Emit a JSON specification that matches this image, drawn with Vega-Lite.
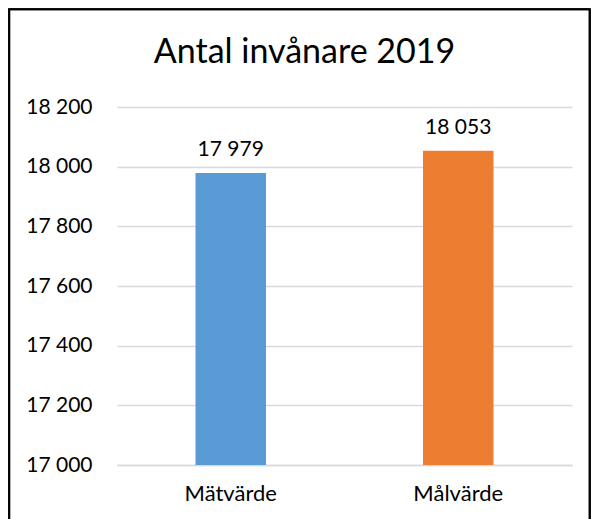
{
  "$schema": "https://vega.github.io/schema/vega-lite/v6.json",
  "width": 455,
  "height": 358,
  "autosize": {"type": "none"},
  "padding": {"left": 117, "top": 107, "right": 25, "bottom": 54},
  "background": "white",
  "config": {
    "view": {"stroke": null},
    "font": "Lato",
    "locale": {"number": {"decimal": ",", "thousands": " ", "grouping": [3], "currency": ["", " kr"]}}
  },
  "title": {
    "text": "Antal invånare 2019",
    "font": "Lato",
    "fontSize": 34,
    "fontWeight": "normal",
    "color": "#000000",
    "anchor": "middle",
    "baseline": "alphabetic",
    "offset": 0,
    "dy": 89,
    "dx": -40
  },
  "data": {
    "values": [
      {"kategori": "Mätvärde", "antal": 17979},
      {"kategori": "Målvärde", "antal": 18053}
    ]
  },
  "layer": [
    {
      "layer": [
        {
          "mark": {"type": "bar", "clip": true},
          "encoding": {
            "x": {
              "field": "kategori",
              "type": "nominal",
              "sort": null,
              "scale": {"paddingInner": 0.69, "paddingOuter": 0.345},
              "axis": {
                "title": null,
                "labelAngle": 0,
                "labelFontSize": 22,
                "labelColor": "#000000",
                "labelPadding": 18,
                "ticks": false,
                "domain": true,
                "domainColor": "#d9d9d9",
                "domainWidth": 1.5
              }
            },
            "y": {
              "field": "antal",
              "type": "quantitative",
              "scale": {"domain": [17000, 18200], "zero": false, "nice": false},
              "axis": {
                "title": null,
                "values": [17000, 17200, 17400, 17600, 17800, 18000, 18200],
                "format": ",.0f",
                "labelFontSize": 21,
                "labelColor": "#000000",
                "labelPadding": 25,
                "ticks": false,
                "domain": false,
                "gridColor": "#d9d9d9",
                "gridWidth": 1.5
              }
            },
            "color": {
              "field": "kategori",
              "type": "nominal",
              "scale": {"domain": ["Mätvärde", "Målvärde"], "range": ["#5B9BD5", "#ED7D31"]},
              "legend": null
            }
          }
        },
        {
          "mark": {"type": "text", "baseline": "alphabetic", "dy": -17, "fontSize": 21, "color": "#000000"},
          "encoding": {
            "x": {"field": "kategori", "type": "nominal", "sort": null},
            "y": {"field": "antal", "type": "quantitative"},
            "text": {"field": "antal", "type": "quantitative", "format": ",.0f"}
          }
        }
      ]
    },
    {
      "mark": {"type": "rect", "clip": false, "fill": null, "stroke": "#000000", "strokeWidth": 2},
      "encoding": {
        "x": {"datum": -0.237, "type": "quantitative", "scale": {"domain": [0, 1], "nice": false, "zero": false}, "axis": null},
        "x2": {"datum": 1.039},
        "y": {"datum": 18528, "type": "quantitative"},
        "y2": {"datum": 16700}
      }
    }
  ],
  "resolve": {"scale": {"x": "independent"}, "axis": {"x": "independent"}}
}
